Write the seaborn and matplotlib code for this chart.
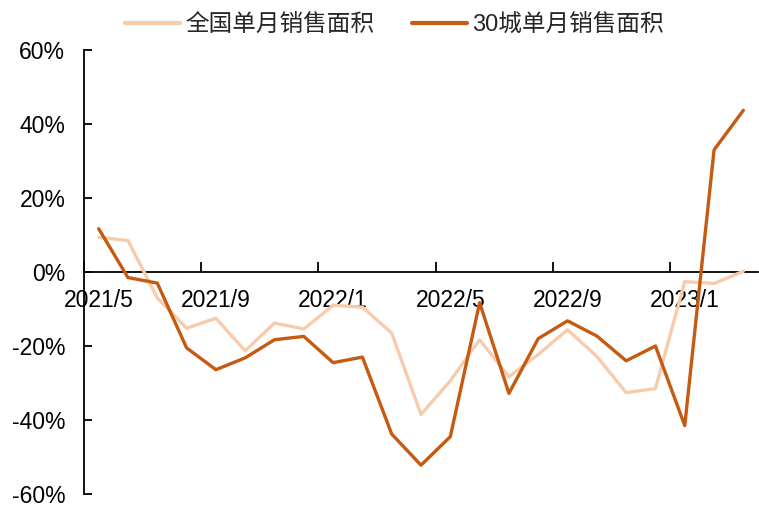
import matplotlib.pyplot as plt
import pandas as pd
import seaborn as sns
from matplotlib.lines import Line2D
from matplotlib.ticker import FixedLocator, FuncFormatter

# monthly values, %
months = [
    '2021/5', '2021/6', '2021/7', '2021/8', '2021/9', '2021/10', '2021/11', '2021/12',
    '2022/1', '2022/2', '2022/3', '2022/4', '2022/5', '2022/6', '2022/7', '2022/8',
    '2022/9', '2022/10', '2022/11', '2022/12', '2023/1', '2023/2', '2023/3',
]
national = [9.4, 8.5, -7.0, -15.2, -12.5, -21.3, -13.8, -15.4,
            -9.0, -9.5, -16.5, -38.5, -29.4, -18.3, -28.3, -22.3,
            -15.6, -22.8, -32.6, -31.5, -2.6, -3.1, 0.2]
city30 = [11.7, -1.5, -3.0, -20.5, -26.4, -23.2, -18.3, -17.4,
          -24.5, -23.0, -43.8, -52.2, -44.5, -8.3, -32.8, -18.0,
          -13.2, -17.3, -24.0, -20.0, -41.5, 33.0, 43.7]
series_names = ['全国单月销售面积', '30城单月销售面积']
colors = ['#F8CBAD', '#C55A11']
label_months = ['2021/5', '2021/9', '2022/1', '2022/5', '2022/9', '2023/1']

df = pd.concat([
    pd.DataFrame({'idx': range(len(months)), 'value': national, 'series': series_names[0]}),
    pd.DataFrame({'idx': range(len(months)), 'value': city30, 'series': series_names[1]}),
])

sns.set_theme(style='white')
plt.rcParams['font.family'] = ['Liberation Sans', 'Noto Sans CJK SC', 'DejaVu Sans']

fig = plt.figure(figsize=(7.59, 5.07), dpi=100)
ax = fig.add_axes([0.1107, 0.0256, 0.888, 0.8758])

sns.lineplot(data=df, x='idx', y='value', hue='series', hue_order=series_names,
             palette=colors, linewidth=2.4, legend=False, sort=False, ax=ax)
for line in ax.get_lines():
    line.set_zorder(3)
    line.set_solid_joinstyle('round')

ax.set_xlim(-0.5, len(months) - 0.5)
ax.set_ylim(-60, 60)
ax.set_xlabel('')
ax.set_ylabel('')

# spines
for side in ['top', 'right']:
    ax.spines[side].set_visible(False)
ax.spines['bottom'].set_position(('data', 0))
for side in ['left', 'bottom']:
    ax.spines[side].set_linewidth(1.3)
    ax.spines[side].set_color('black')

# y axis
ax.set_yticks(range(-60, 61, 20))
ax.yaxis.set_major_formatter(FuncFormatter(lambda v, p: f'{v:.0f}%'))
ax.tick_params(axis='y', direction='in', length=6, width=1.3, color='black',
               labelsize=16.5, pad=13.5, left=True, labelcolor='black')

# x axis: ticks at category boundaries, labels at category centres
label_pos = [months.index(m) for m in label_months]
ax.xaxis.set_major_locator(FixedLocator([p - 0.5 for p in label_pos]))
ax.xaxis.set_major_formatter(FuncFormatter(lambda v, p: ''))
ax.xaxis.set_minor_locator(FixedLocator(label_pos))
ax.set_xticklabels(label_months, minor=True)
ax.tick_params(axis='x', which='major', direction='in', length=7, width=1.3,
               color='black', bottom=True)
ax.tick_params(axis='x', which='minor', length=0, labelsize=16.5, pad=12.5,
               labelcolor='black', bottom=True)

handles = [Line2D([], [], color=c, linewidth=3) for c in colors]
fig.legend(handles, series_names, loc='center', bbox_to_anchor=(0.52, 0.95),
           ncol=2, frameon=False, fontsize=17, handlelength=2.3,
           handletextpad=0.25, columnspacing=1.6)

fig.savefig('out.png', dpi=100)
